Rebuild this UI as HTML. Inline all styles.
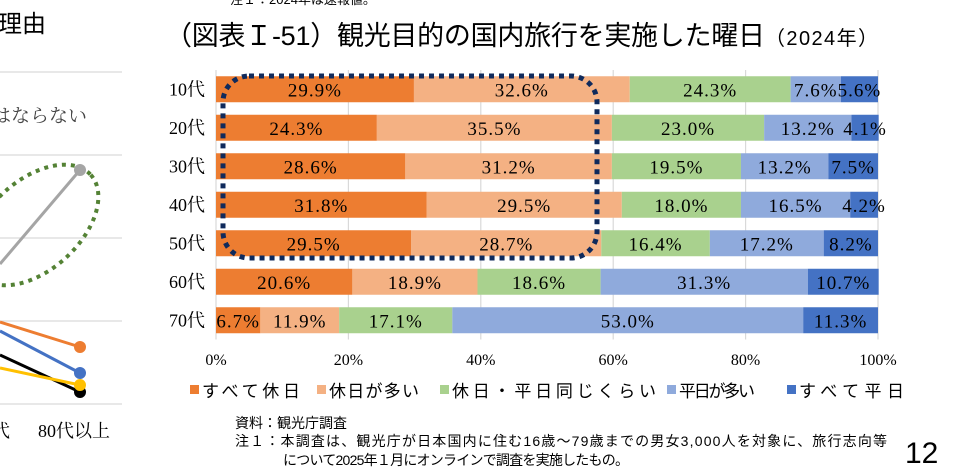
<!DOCTYPE html>
<html><head><meta charset="utf-8"><style>
body{margin:0;width:955px;height:469px;background:#fff;overflow:hidden;font-family:"Liberation Serif","Noto Serif CJK SC",serif;}
svg{position:absolute;left:0;top:0}
.g{font-family:"Liberation Sans","Noto Sans CJK JP",sans-serif}
</style></head><body>
<svg width="955" height="469">
 <g>
  <text x="-2" y="32" font-size="24" class="g">理由</text>
  <g stroke="#d9d9d9" stroke-width="1.2">
   <line x1="0" x2="122" y1="72" y2="72"/><line x1="0" x2="122" y1="155" y2="155"/>
   <line x1="0" x2="122" y1="238" y2="238"/><line x1="0" x2="122" y1="321" y2="321"/>
   <line x1="0" x2="122" y1="404" y2="404"/>
  </g>
  <text x="-8" y="122" font-size="19" fill="#444">はならない</text>
  <ellipse cx="35" cy="225" rx="75" ry="45" transform="rotate(-42 35 225)" fill="none" stroke="#548235" stroke-width="4" stroke-dasharray="4 5"/>
  <line x1="0" y1="264" x2="80" y2="170" stroke="#a5a5a5" stroke-width="3"/><circle cx="80" cy="170" r="6" fill="#a5a5a5"/>
  <line x1="0" y1="322" x2="80" y2="347" stroke="#ed7d31" stroke-width="3"/><circle cx="80" cy="347" r="6" fill="#ed7d31"/>
  <line x1="0" y1="331" x2="80" y2="373" stroke="#4472c4" stroke-width="3"/><circle cx="80" cy="373" r="6" fill="#4472c4"/>
  <line x1="0" y1="355" x2="80" y2="392" stroke="#000" stroke-width="3"/><circle cx="80" cy="392" r="6" fill="#000"/>
  <line x1="0" y1="368" x2="80" y2="385" stroke="#ffc000" stroke-width="3"/><circle cx="80" cy="385" r="6" fill="#ffc000"/>
  <text x="-8" y="437" font-size="18">代</text>
  <text x="38" y="437" font-size="18">80代以上</text>
 </g>
 <text x="230" y="4" font-size="13" class="g">注１：2024年は速報値。</text>
 <text x="165" y="45" font-size="27" class="g" textLength="600">（図表Ｉ-51）観光目的の国内旅行を実施した曜日</text>
 <text x="765" y="45" font-size="20" class="g" textLength="113">（2024年）</text>
 <g id="plot"></g>
 <rect x="223" y="76" width="374" height="182" rx="26" fill="none" stroke="#0f2a5c" stroke-width="5" stroke-dasharray="5 5"/>
 <g id="legend" font-size="17"></g>
 <text x="235" y="428" font-size="14" class="g">資料：観光庁調査</text>
 <text x="235" y="446" font-size="14" class="g" textLength="652">注１：本調査は、観光庁が日本国内に住む16歳～79歳までの男女3,000人を対象に、旅行志向等</text>
 <text x="283" y="465" font-size="14" class="g" textLength="346">について2025年１月にオンラインで調査を実施したもの。</text>
 <text x="905" y="463" font-size="30" class="g">12</text>
</svg>
<script>
const categories=["10代","20代","30代","40代","50代","60代","70代"];
const allHoliday=[29.9,24.3,28.6,31.8,29.5,20.6,6.7];
const mostlyHoliday=[32.6,35.5,31.2,29.5,28.7,18.9,11.9];
const equal=[24.3,23.0,19.5,18.0,16.4,18.6,17.1];
const mostlyWeekday=[7.6,13.2,13.2,16.5,17.2,31.3,53.0];
const allWeekday=[5.6,4.1,7.5,4.2,8.2,10.7,11.3];
const seriesNames=["すべて休日","休日が多い","休日・平日同じくらい","平日が多い","すべて平日"];
const ticks=[0,20,40,60,80,100];
const colors=["#ed7d31","#f4b183","#a9d18e","#8faadc","#4472c4"];
const series=[allHoliday,mostlyHoliday,equal,mostlyWeekday,allWeekday];
const NS="http://www.w3.org/2000/svg";
const X0=216,X1=878,Y0=70,ROW=38.5,BH=26;
const xs=v=>X0+(X1-X0)*v/100;
const yc=i=>Y0+ROW*(i+0.5);
const plot=document.getElementById('plot');
function mk(t,a,p){const e=document.createElementNS(NS,t);for(const k in a)e.setAttribute(k,a[k]);(p||plot).appendChild(e);return e;}
ticks.forEach(t=>{
 const l=mk('line',{x1:xs(t),x2:xs(t),y1:Y0,y2:Y0+ROW*7,stroke:'#d9d9d9','stroke-width':1.2});
 
 
 const tx=mk('text',{x:xs(t),y:365,'font-size':16,'text-anchor':'middle'});tx.textContent=t+'%';
 
 
});
categories.forEach((c,i)=>{
 const lb=mk('text',{x:X0-11,y:yc(i)+6,'font-size':18,'text-anchor':'end'});lb.textContent=c;
 
 
 let acc=0;
 series.forEach((s,k)=>{
  const v=s[i];
  const r=mk('rect',{x:xs(acc),y:yc(i)-BH/2,width:xs(acc+v)-xs(acc),height:BH,fill:colors[k]});
  
  
  const t=mk('text',{x:(xs(acc)+xs(acc+v))/2,y:yc(i)+7,'font-size':19,'text-anchor':'middle','letter-spacing':'1'});
  t.textContent=v.toFixed(1)+'%';
  
  
  acc+=v;
 });
});
const lg=document.getElementById('legend');
const lx=[190,317,440,667,787];
const lw=[98,90,204,76,105];
seriesNames.forEach((n,k)=>{
 const r=mk('rect',{x:lx[k],y:385,width:9,height:9,fill:colors[k]},lg);
 
 
 const t=mk('text',{x:lx[k]+12,y:397,class:'g',textLength:lw[k]},lg);t.textContent=n;
 
 
});
</script>
</body></html>
